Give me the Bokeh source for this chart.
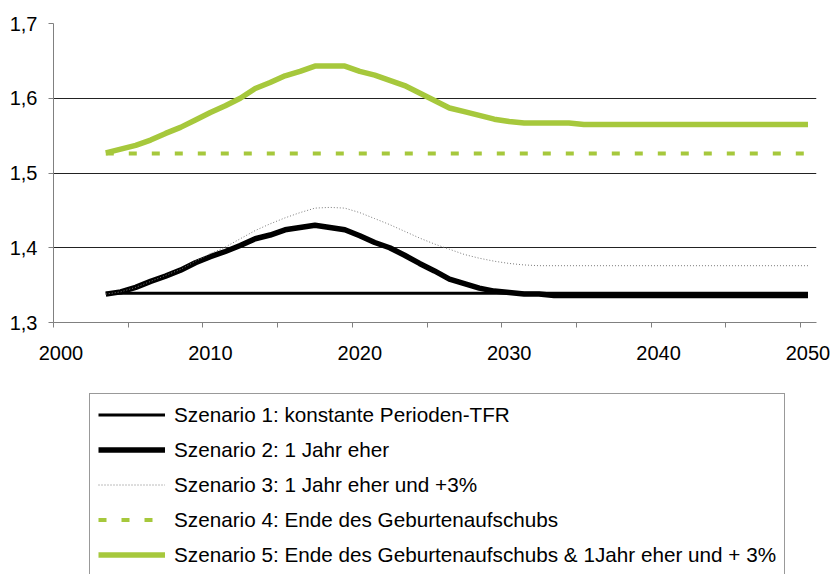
from bokeh.plotting import figure
from bokeh.layouts import column
from bokeh.models import (ColumnDataSource, FixedTicker, CustomJSTickFormatter,
                          Legend, LegendItem, Range1d)
from bokeh.embed import file_html
from bokeh.resources import INLINE

years = list(range(2003, 2051))

s1 = [1.339, 1.339, 1.339, 1.339, 1.339, 1.339, 1.339, 1.339, 1.339, 1.339,
      1.339, 1.339, 1.339, 1.339, 1.339, 1.339, 1.339, 1.339, 1.339, 1.339,
      1.339, 1.339, 1.339, 1.339, 1.339, 1.339, 1.339, 1.339, 1.339, 1.339,
      1.339, 1.339, 1.339, 1.339, 1.339, 1.339, 1.339, 1.339, 1.339, 1.339,
      1.339, 1.339, 1.339, 1.339, 1.339, 1.339, 1.339, 1.339]

s2 = [1.338, 1.341, 1.347, 1.355, 1.362, 1.370, 1.380, 1.388, 1.395, 1.403,
      1.412, 1.417, 1.424, 1.427, 1.430, 1.427, 1.424, 1.416, 1.407, 1.400,
      1.390, 1.379, 1.369, 1.358, 1.352, 1.346, 1.342, 1.340, 1.338, 1.338,
      1.336, 1.336, 1.336, 1.336, 1.336, 1.336, 1.336, 1.336, 1.336, 1.336,
      1.336, 1.336, 1.336, 1.336, 1.336, 1.336, 1.336, 1.336]

s3 = [1.338, 1.341, 1.347, 1.355, 1.363, 1.371, 1.382, 1.392, 1.401, 1.412,
      1.423, 1.432, 1.440, 1.447, 1.453, 1.454, 1.453, 1.447, 1.439, 1.431,
      1.422, 1.413, 1.405, 1.398, 1.391, 1.386, 1.382, 1.379, 1.377, 1.376,
      1.376, 1.376, 1.376, 1.376, 1.376, 1.376, 1.376, 1.376, 1.376, 1.376,
      1.376, 1.376, 1.376, 1.376, 1.376, 1.376, 1.376, 1.376]

s4 = [1.526, 1.526, 1.526, 1.526, 1.526, 1.526, 1.526, 1.526, 1.526, 1.526,
      1.526, 1.526, 1.526, 1.526, 1.526, 1.526, 1.526, 1.526, 1.526, 1.526,
      1.526, 1.526, 1.526, 1.526, 1.526, 1.526, 1.526, 1.526, 1.526, 1.526,
      1.526, 1.526, 1.526, 1.526, 1.526, 1.526, 1.526, 1.526, 1.526, 1.526,
      1.526, 1.526, 1.526, 1.526, 1.526, 1.526, 1.526, 1.526]

s5 = [1.527, 1.532, 1.537, 1.544, 1.553, 1.561, 1.571, 1.581, 1.590, 1.600,
      1.613, 1.621, 1.630, 1.636, 1.643, 1.643, 1.643, 1.636, 1.631, 1.624,
      1.617, 1.607, 1.597, 1.587, 1.582, 1.577, 1.572, 1.569, 1.567, 1.567,
      1.567, 1.567, 1.565, 1.565, 1.565, 1.565, 1.565, 1.565, 1.565, 1.565,
      1.565, 1.565, 1.565, 1.565, 1.565, 1.565, 1.565, 1.565]

labels = [
    "Szenario 1: konstante Perioden-TFR",
    "Szenario 2: 1 Jahr eher",
    "Szenario 3: 1 Jahr eher und +3%",
    "Szenario 4: Ende des Geburtenaufschubs",
    "Szenario 5: Ende des Geburtenaufschubs & 1Jahr eher und + 3%",
]

x_label_ticks = [2000, 2010, 2020, 2030, 2040, 2050]
x_mark_ticks = [1999.5, 2004.5, 2009.5, 2014.5, 2019.5, 2024.5, 2029.5,
                2034.5, 2039.5, 2044.5, 2049.5]
y_ticks = [1.3, 1.4, 1.5, 1.6, 1.7]
y_grid = [1.4, 1.5, 1.6, 1.7]

GREEN = "#A6C83C"
FONT = "Liberation Sans"
FS = "20px"
LFS = "20.7px"

STYLES = [
    dict(line_color="black", line_width=3),
    dict(line_color="black", line_width=5.5, line_join="round"),
    dict(line_color="#7a7a7a", line_width=1, line_dash="1 2"),
    dict(line_color=GREEN, line_width=4, line_dash="8 15"),
    dict(line_color=GREEN, line_width=5.5, line_join="round"),
]

src = ColumnDataSource(dict(year=years, s1=s1, s2=s2, s3=s3, s4=s4, s5=s5))

W = 830
p = figure(width=W, height=370, output_backend="svg", toolbar_location=None,
           x_range=Range1d(1999.5, 2050.57), y_range=Range1d(1.3, 1.7))
p.min_border_left = 53
p.min_border_right = W - 53 - 763
p.min_border_top = 23
p.min_border_bottom = 370 - 23 - 299
p.outline_line_color = None
p.background_fill_color = "white"
p.border_fill_color = "white"

for i, col in enumerate(["s1", "s2", "s3", "s4", "s5"]):
    p.line("year", col, source=src, **STYLES[i])

# axes
xa = p.xaxis[0]
xa.ticker = FixedTicker(ticks=x_label_ticks, minor_ticks=x_mark_ticks)
xa.formatter = CustomJSTickFormatter(code="return tick.toFixed(0)")
xa.major_tick_out = 0
xa.major_tick_in = 0
xa.minor_tick_out = 5
xa.minor_tick_in = 0
xa.minor_tick_line_color = "#808080"
xa.axis_line_color = "#808080"
xa.major_label_standoff = 18
xa.major_label_text_font = FONT
xa.major_label_text_font_size = FS
xa.major_label_text_color = "black"

ya = p.yaxis[0]
ya.ticker = FixedTicker(ticks=y_ticks, minor_ticks=[])
ya.formatter = CustomJSTickFormatter(code="return tick.toFixed(1).replace('.', ',')")
ya.major_tick_out = 5
ya.major_tick_in = 0
ya.major_tick_line_color = "#808080"
ya.axis_line_color = "#808080"
ya.major_label_standoff = 11
ya.major_label_text_font = FONT
ya.major_label_text_font_size = FS
ya.major_label_text_color = "black"

p.xgrid.visible = False
p.ygrid.ticker = FixedTicker(ticks=y_grid)
p.ygrid.grid_line_color = "#222222"
p.ygrid.grid_line_width = 1

# legend panel (separate figure holding only the legend; its frame is
# aligned with the chart's frame by the column layout)
H2 = 204
q = figure(width=W, height=H2, output_backend="svg", toolbar_location=None,
           x_range=Range1d(0, 1), y_range=Range1d(0, 1),
           x_axis_location=None, y_axis_location=None)
q.min_border_left = 53
q.min_border_right = W - 53 - 763
q.min_border_top = 0
q.min_border_bottom = 0
q.outline_line_color = None
q.xgrid.visible = False
q.ygrid.visible = False
q.background_fill_color = "white"
q.border_fill_color = "white"

items = []
for i in range(5):
    # sample renderers, kept outside the visible range: only their legend glyph shows
    r = q.line(x=[5, 6], y=[5, 5], **STYLES[i])
    items.append(LegendItem(label=labels[i], renderers=[r]))

PAD = 8
LEG_H = 2 * PAD + 5 * 25 + 4 * 10
legend = Legend(
    items=items,
    location=(89 - 53, H2 - 25 - LEG_H),
    orientation="vertical",
    glyph_width=67, glyph_height=25, label_height=25,
    label_standoff=9, spacing=10, padding=PAD, margin=0,
    label_text_font=FONT, label_text_font_size=LFS, label_text_color="black",
    border_line_color="#333333", border_line_width=1.5,
    background_fill_color="white", background_fill_alpha=1.0,
)
q.add_layout(legend, "center")

layout = column(p, q, spacing=0)
open("out.html", "w").write(file_html(layout, INLINE))
